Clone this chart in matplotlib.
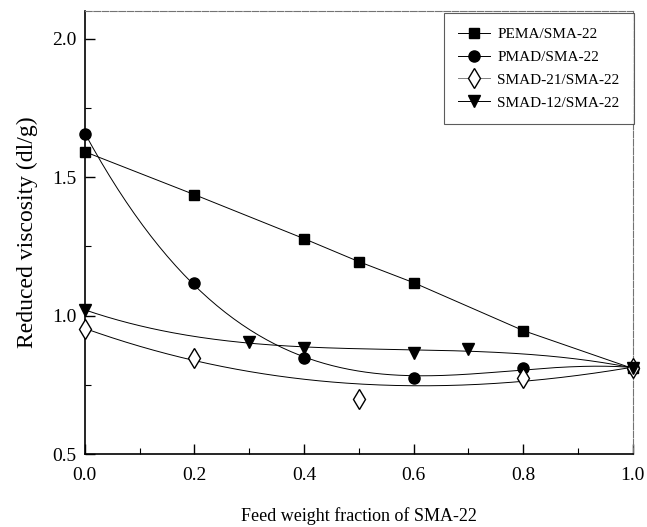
import numpy as np
import matplotlib.pyplot as plt
from matplotlib.lines import Line2D
from matplotlib.ticker import MultipleLocator

plt.rcParams['font.family'] = ['Liberation Serif', 'DejaVu Serif']

# PEMA/SMA-22
x_pema = [0.0, 0.2, 0.4, 0.5, 0.6, 0.8, 1.0]
y_pema = [1.592, 1.437, 1.278, 1.195, 1.119, 0.946, 0.809]
# PMAD/SMA-22
x_pmad = [0.0, 0.2, 0.4, 0.6, 0.8, 1.0]
y_pmad = [1.657, 1.116, 0.848, 0.776, 0.812, 0.81]
# SMAD-21/SMA-22
x_s21 = [0.0, 0.2, 0.5, 0.8, 1.0]
y_s21 = [0.95, 0.848, 0.70, 0.773, 0.81]
# SMAD-12/SMA-22
x_s12 = [0.0, 0.3, 0.4, 0.6, 0.7, 1.0]
y_s12 = [1.02, 0.906, 0.884, 0.866, 0.881, 0.81]

labels = ['PEMA/SMA-22', 'PMAD/SMA-22', 'SMAD-21/SMA-22', 'SMAD-12/SMA-22']
xticks = [0.0, 0.2, 0.4, 0.6, 0.8, 1.0]
yticks = [0.5, 1.0, 1.5, 2.0]

fig = plt.figure(figsize=(6.47, 5.27), dpi=100)
ax = fig.add_axes([0.131, 0.1385, 0.847, 0.8405])

lw = 0.7
xs = np.linspace(0, 1, 200)


def fit_curve(x, y, deg, w=None):
    p = np.polyfit(x, y, deg, w=w)
    return np.polyval(p, xs)


# smooth trend lines (polynomial fits of each series)
ax.plot(x_pema, y_pema, color='k', lw=lw)
ax.plot(xs, fit_curve(x_pmad, y_pmad, 3), color='k', lw=lw)
ax.plot(xs, fit_curve(x_s21, y_s21, 3, w=[1, 1, 0.5, 1, 1]), color='k', lw=lw)
ax.plot(xs, fit_curve(x_s12, y_s12, 3), color='k', lw=lw)

ax.plot(x_pema, y_pema, 's', color='k', ms=7.5, ls='none', clip_on=False, zorder=5)
ax.plot(x_pmad, y_pmad, 'o', color='k', ms=8, ls='none', clip_on=False, zorder=5)
ax.plot(x_s21, y_s21, 'd', mfc='white', mec='k', mew=1.0, ms=10, ls='none',
        clip_on=False, zorder=5)
ax.plot(x_s12, y_s12, 'v', color='k', ms=9, ls='none', clip_on=False, zorder=5)

ax.set_xlim(0, 1.0)
ax.set_ylim(0.5, 2.1)
ax.set_xticks(xticks)
ax.set_yticks(yticks)
ax.set_xticklabels(['%.1f' % v for v in xticks])
ax.set_yticklabels(['%.1f' % v for v in yticks])
ax.xaxis.set_minor_locator(MultipleLocator(0.1))
ax.yaxis.set_minor_locator(MultipleLocator(0.25))
ax.tick_params(which='both', direction='in', labelsize=14)
ax.tick_params(axis='x', which='both', pad=9)
ax.tick_params(axis='y', which='both', pad=6)
ax.tick_params(which='major', length=7, width=1.0)
ax.tick_params(which='minor', length=4, width=0.8)

for s in ['left', 'bottom']:
    ax.spines[s].set_linewidth(1.2)
for s in ['top', 'right']:
    ax.spines[s].set_color('0.45')
    ax.spines[s].set_linewidth(0.8)
    ax.spines[s].set_linestyle((0, (6, 1.5)))

ax.set_xlabel('Feed weight fraction of SMA-22', fontsize=13, labelpad=17)
ax.set_ylabel('Reduced viscosity (dl/g)', fontsize=17, labelpad=10)

handles = [
    Line2D([], [], color='k', lw=lw, marker='s', ms=7.5),
    Line2D([], [], color='k', lw=lw, marker='o', ms=8),
    Line2D([], [], color='0.5', lw=lw, marker='d', mfc='white', mec='k', ms=10),
    Line2D([], [], color='k', lw=lw, marker='v', ms=9),
]
leg = ax.legend(handles, labels, loc='upper right', fontsize=11, frameon=True,
                fancybox=False, edgecolor='0.2', handlelength=2.1, handletextpad=0.45,
                labelspacing=0.6, borderpad=0.95, borderaxespad=0,
                bbox_to_anchor=(1.002, 0.996))
leg.get_frame().set_linewidth(0.8)

fig.savefig('out.png', dpi=100)
